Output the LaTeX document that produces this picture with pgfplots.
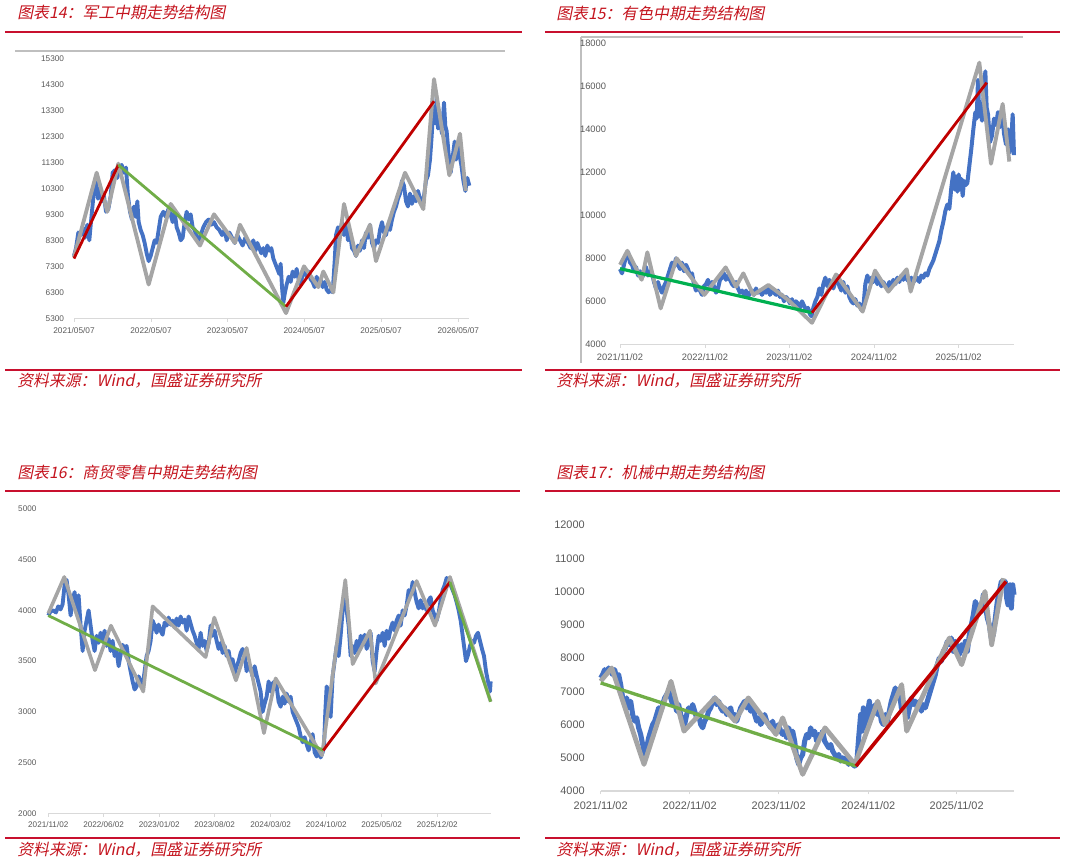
\documentclass[border=0pt]{standalone}
\usepackage{fontspec}
\setmainfont{Liberation Sans}
\newfontfamily\cjk[FakeSlant=0.2]{Noto Sans CJK SC}
\usepackage{pgfplots}
\pgfplotsset{compat=1.18}
\definecolor{xblue}{RGB}{68,114,196}
\definecolor{xgray}{RGB}{165,165,165}
\definecolor{xred}{RGB}{192,0,0}
\definecolor{xgreen}{RGB}{112,173,71}
\definecolor{xgreenb}{RGB}{0,176,80}
\definecolor{hdred}{RGB}{200,16,46}
\definecolor{titred}{RGB}{196,20,30}
\definecolor{ticklab}{RGB}{89,89,89}
\definecolor{axgray}{RGB}{217,217,217}
\definecolor{bordgray}{RGB}{191,191,191}
\pgfplotsset{
  panel/.style={
    scale only axis,
    scaled ticks=false,
    axis x line=bottom, axis y line=left,
    axis line style={-},
    x axis line style={axgray, line width=0.8pt},
    y axis line style={draw=none},
    ytick style={draw=none},
    xtick style={axgray, line width=0.6pt},
    xtick align=outside,
    major tick length=2.5pt,
    tick label style={text=ticklab},
    /pgf/number format/assume math mode=true,
    /pgf/number format/1000 sep={},
    /pgf/number format/fixed,
    /pgf/number format/precision=0,
    yticklabel style={anchor=east, inner sep=0pt},
    xticklabel style={anchor=north, inner sep=0pt},
    clip=false,
    line join=round,
  },
  blueline/.style={xblue, line width=#1},
  grayline/.style={xgray, line width=#1},
}
\begin{document}
\begin{tikzpicture}[x=0.75pt,y=0.75pt]
\path (0,0) rectangle (1065,863);
% ---------- decorations ----------
\begin{scope}[font=\cjk\fontsize{11.9}{13}\selectfont]
\node[anchor=west, text=titred, inner sep=0pt] at (17,850) {图表14：军工中期走势结构图};
\node[anchor=west, text=titred, inner sep=0pt] at (556,850) {图表15：有色中期走势结构图};
\node[anchor=west, text=titred, inner sep=0pt] at (17,390) {图表16：商贸零售中期走势结构图};
\node[anchor=west, text=titred, inner sep=0pt] at (556,390) {图表17：机械中期走势结构图};
\node[anchor=west, text=titred, inner sep=0pt] at (17,482) {资料来源：Wind，国盛证券研究所};
\node[anchor=west, text=titred, inner sep=0pt] at (556,482) {资料来源：Wind，国盛证券研究所};
\node[anchor=west, text=titred, inner sep=0pt] at (17,13) {资料来源：Wind，国盛证券研究所};
\node[anchor=west, text=titred, inner sep=0pt] at (556,13) {资料来源：Wind，国盛证券研究所};
\end{scope}
\draw[hdred, line width=1.6pt] (5,830.7) -- (522,830.7);
\draw[hdred, line width=1.6pt] (545,830.7) -- (1060,830.7);
\draw[hdred, line width=1.6pt] (5,493) -- (522,493);
\draw[hdred, line width=1.6pt] (545,493) -- (1060,493);
\draw[hdred, line width=1.6pt] (5,372) -- (520,372);
\draw[hdred, line width=1.6pt] (545,372) -- (1060,372);
\draw[hdred, line width=1.6pt] (5,25) -- (520,25);
\draw[hdred, line width=1.6pt] (545,25) -- (1060,25);
\draw[bordgray, line width=0.8pt] (15,812) -- (505,812);
\draw[bordgray, line width=0.8pt] (581,826) -- (1023,826);
\draw[bordgray, line width=0.8pt] (581,826) -- (581,500);
% ---------- Panel 1 ----------
\begin{axis}[panel, at={(55.5pt,408.5pt)}, anchor=south west,
  width=296.5pt, height=195pt,
  xmin=222, xmax=1408, ymin=5300, ymax=15300,
  ytick={5300,6300,...,15300},
  xtick={222,453,683,913,1143,1375},
  xticklabels={2021/05/07,2022/05/07,2023/05/07,2024/05/07,2025/05/07,2026/05/07},
  tick label style={font=\fontsize{6.2}{7}\selectfont},
  yticklabel style={xshift=-6pt},
  xticklabel style={yshift=-4pt}]
\addplot[blueline=2.9pt] coordinates {(222,7700)(228,8000)(235,8600)(242,8500)(248,8800)(255,8400)(262,8900)(268,8300)(275,9300)(282,10200)(288,10600)(294,9900)(300,10300)(306,9800)(312,10000)(318,9400)(325,9500)(332,10000)(338,10900)(345,11000)(352,10700)(358,11100)(365,11200)(372,10900)(378,11100)(384,10000)(390,9400)(396,9100)(402,9600)(408,9200)(412,9800)(416,9000)(422,8700)(428,8500)(434,8200)(440,7800)(446,7500)(452,7700)(458,8000)(464,8300)(470,8200)(476,8700)(482,9200)(490,9400)(498,9200)(505,9500)(512,9300)(518,9000)(524,9400)(530,8800)(536,8600)(542,8300)(548,8400)(554,9000)(560,9400)(566,9100)(572,9300)(578,8800)(584,8700)(590,8400)(596,8300)(602,8500)(610,8800)(618,9000)(626,9100)(634,8900)(642,9000)(650,8800)(658,8700)(666,8500)(674,8700)(680,8300)(688,8600)(696,8400)(704,8200)(712,8500)(720,8300)(728,8100)(736,8400)(744,8200)(752,8000)(760,8300)(766,7900)(772,8200)(778,8000)(784,7800)(790,8000)(796,7700)(802,8100)(808,7900)(814,8000)(820,7600)(826,7400)(832,7200)(838,7000)(842,7400)(846,6500)(850,5900)(855,6300)(860,6600)(866,6900)(872,6700)(878,7100)(884,6900)(890,7200)(896,6800)(902,6600)(908,7000)(914,7200)(920,6900)(926,7100)(932,6800)(938,6700)(944,6500)(950,6900)(956,6600)(962,6800)(968,6500)(974,6700)(980,6400)(986,6300)(992,6400)(998,6300)(1004,7500)(1008,8500)(1014,8800)(1020,8600)(1026,9000)(1032,8500)(1038,8900)(1044,8300)(1050,8600)(1056,8000)(1062,7900)(1068,7700)(1074,8100)(1080,7900)(1086,8300)(1092,8000)(1098,8600)(1104,8400)(1110,8900)(1116,8200)(1122,8000)(1128,8300)(1134,8200)(1140,8700)(1146,9000)(1152,8600)(1158,8500)(1164,8900)(1170,8700)(1176,9100)(1182,9400)(1188,9600)(1194,9900)(1200,10100)(1206,10600)(1212,10400)(1218,9800)(1224,9600)(1230,10100)(1236,9700)(1242,10000)(1248,9800)(1254,10200)(1260,9900)(1266,9800)(1272,10000)(1278,10600)(1284,10800)(1290,11400)(1295,12300)(1300,13400)(1305,12800)(1310,13800)(1314,12600)(1320,12900)(1326,12400)(1332,13600)(1336,12700)(1340,12500)(1346,11600)(1352,10900)(1358,11500)(1364,12100)(1368,11400)(1372,12000)(1378,11600)(1384,11200)(1390,10600)(1396,10200)(1402,10700)(1408,10400)};
\addplot[grayline=2.9pt] coordinates {(222,7650)(290,10900)(322,9400)(355,11250)(446,6600)(512,9700)(600,8100)(642,9300)(705,8200)(720,8900)(858,5500)(912,7300)(955,6500)(970,7100)(1000,6300)(1032,9700)(1068,7700)(1110,8900)(1128,7500)(1215,10900)(1270,9500)(1302,14500)(1348,10800)(1380,12400)(1397,10200)};
\addplot[xred, line width=2.1pt] coordinates {(222,7600)(355,11200)};
\addplot[xgreen, line width=2.1pt] coordinates {(355,11200)(858,5750)};
\addplot[xred, line width=2.1pt] coordinates {(858,5750)(1302,13650)};
\end{axis}
% ---------- Panel 2 ----------
\begin{axis}[panel, at={(465pt,389pt)}, anchor=south west,
  width=295.5pt, height=225.75pt,
  xmin=240, xmax=1422, ymin=4000, ymax=18000,
  ytick={4000,6000,...,18000},
  xtick={240,495,748,1002,1256},
  xticklabels={2021/11/02,2022/11/02,2023/11/02,2024/11/02,2025/11/02},
  tick label style={font=\fontsize{7}{8}\selectfont},
  yticklabel style={xshift=-9pt},
  xticklabel style={yshift=-4pt}]
\addplot[blueline=3pt] coordinates {(240,7500)(246,7300)(252,7700)(258,8100)(264,8300)(270,7800)(276,7700)(282,7400)(288,7600)(294,7200)(300,7400)(306,7100)(312,7300)(318,7600)(324,7200)(330,7400)(336,7300)(342,6900)(348,6600)(354,6900)(360,6600)(366,6400)(372,6700)(378,6900)(384,7200)(390,7500)(396,7800)(402,7600)(408,8000)(414,7700)(420,7500)(426,7800)(432,7400)(438,7700)(444,7500)(450,7200)(456,7300)(462,6800)(468,6500)(474,6700)(480,6500)(486,6300)(492,6700)(498,6800)(504,7000)(510,6600)(516,6900)(522,6700)(528,6400)(534,6600)(540,7000)(546,7100)(552,7300)(558,7000)(564,7200)(570,7000)(576,6800)(582,6700)(588,6900)(594,6600)(600,6400)(606,6500)(612,6300)(618,6500)(624,6200)(630,6400)(636,6500)(642,6300)(648,6600)(654,6400)(660,6500)(666,6300)(672,6500)(678,6400)(684,6600)(690,6300)(696,6500)(702,6400)(708,6300)(714,6500)(720,6200)(726,6300)(732,6000)(738,6200)(744,6100)(750,5900)(756,6100)(762,5800)(768,6000)(774,5900)(780,5700)(786,6000)(792,5800)(798,5600)(804,5700)(810,5400)(815,5300)(820,5700)(826,6000)(832,6200)(838,6600)(844,6300)(850,6800)(856,7100)(862,6700)(868,7000)(874,6800)(880,6600)(886,6900)(892,7200)(898,6700)(904,6500)(910,6900)(916,6400)(922,6700)(928,6200)(934,6000)(940,5900)(946,6100)(952,5800)(958,5900)(964,5600)(970,5700)(976,6800)(982,7200)(988,6900)(994,7100)(1000,6900)(1006,7200)(1012,6800)(1018,7000)(1024,6700)(1030,6900)(1036,6700)(1042,6600)(1048,6900)(1054,6700)(1060,7000)(1066,6800)(1072,7100)(1078,6900)(1084,7200)(1090,7000)(1096,7300)(1102,7000)(1108,6900)(1114,7100)(1120,6900)(1126,7000)(1132,7100)(1138,6900)(1144,7200)(1150,7100)(1156,7300)(1162,7200)(1168,7500)(1174,7700)(1180,7900)(1186,8200)(1192,8500)(1198,8800)(1204,9300)(1210,9700)(1216,10200)(1222,10500)(1228,10300)(1234,11300)(1240,12000)(1244,11200)(1248,11800)(1252,11100)(1256,11900)(1260,11200)(1264,11700)(1268,10900)(1272,11600)(1276,11400)(1282,11500)(1288,12300)(1294,13100)(1300,14000)(1306,14800)(1310,14500)(1314,16300)(1318,14600)(1322,15200)(1326,14400)(1332,15800)(1336,16700)(1340,15000)(1344,14700)(1350,13400)(1356,13700)(1362,14500)(1368,14200)(1374,14800)(1380,14100)(1386,15000)(1392,13800)(1398,13300)(1404,14000)(1408,12900)(1414,13500)(1418,14700)(1422,12800)};
\addplot[grayline=2.9pt] coordinates {(240,7700)(262,8350)(305,7000)(322,8280)(362,5670)(410,8000)(493,6300)(557,7580)(588,6680)(610,7300)(640,6300)(685,6760)(745,6060)(816,5000)(888,7250)(968,5520)(1005,7430)(1045,6450)(1100,7490)(1112,6450)(1318,17100)(1353,12400)(1388,15180)(1408,12500)};
\addplot[xgreenb, line width=2.4pt] coordinates {(240,7520)(816,5470)};
\addplot[xred, line width=2.1pt] coordinates {(816,5470)(1340,16170)};
\end{axis}
% ---------- Panel 3 ----------
\begin{axis}[panel, at={(36.2pt,37.3pt)}, anchor=south west,
  width=331.8pt, height=228.2pt,
  xmin=145, xmax=1472, ymin=2000, ymax=5000,
  ytick={2000,2500,...,5000},
  xtick={145,311,478,644,812,979,1145,1312},
  xticklabels={2021/11/02,2022/06/02,2023/01/02,2023/08/02,2024/03/02,2024/10/02,2025/05/02,2025/12/02},
  tick label style={font=\fontsize{6.1}{7}\selectfont},
  yticklabel style={xshift=-7.5pt},
  xticklabel style={yshift=-3.5pt}]
\addplot[blueline=2.9pt] coordinates {(145,3950)(152,3990)(160,4000)(168,3980)(175,4040)(182,4010)(188,4060)(194,4250)(200,4300)(206,4150)(212,3950)(218,4100)(224,4180)(230,3980)(236,4150)(242,3850)(248,3600)(254,3800)(260,3900)(266,4000)(272,3850)(278,3700)(284,3600)(290,3750)(296,3680)(302,3780)(308,3700)(314,3800)(320,3650)(326,3720)(332,3600)(338,3700)(344,3550)(350,3600)(356,3450)(362,3560)(368,3660)(374,3620)(380,3650)(386,3500)(392,3400)(398,3300)(404,3220)(410,3250)(416,3350)(422,3300)(428,3250)(434,3400)(440,3550)(446,3600)(452,3700)(458,3900)(464,3850)(470,3780)(476,3860)(482,3800)(488,3760)(494,3880)(500,3850)(506,3930)(512,3860)(518,3900)(524,3830)(530,3920)(536,3850)(542,3940)(548,3880)(554,3910)(560,3800)(566,3940)(572,3870)(578,3800)(584,3750)(590,3680)(596,3620)(602,3780)(608,3650)(614,3700)(620,3600)(626,3680)(632,3850)(638,3750)(644,3800)(650,3700)(656,3620)(662,3680)(668,3580)(674,3650)(680,3550)(686,3600)(692,3480)(698,3520)(704,3380)(710,3450)(716,3500)(722,3580)(728,3620)(734,3560)(740,3400)(746,3480)(752,3420)(758,3350)(764,3450)(770,3360)(776,3280)(782,3200)(788,3000)(794,3080)(800,3150)(806,3300)(812,3200)(818,3280)(824,3300)(830,3250)(836,3100)(842,3050)(848,3150)(854,3080)(860,3180)(866,3100)(872,3150)(878,3000)(884,2950)(890,2900)(896,2850)(902,2760)(908,2700)(914,2750)(920,2680)(926,2620)(932,2700)(938,2780)(944,2600)(950,2560)(956,2620)(962,2550)(968,2600)(972,2650)(976,3000)(980,3250)(986,3200)(992,2950)(998,3350)(1004,3500)(1010,3650)(1016,3550)(1022,3750)(1028,4000)(1034,4150)(1040,4000)(1046,3850)(1052,3550)(1058,3650)(1064,3580)(1070,3700)(1076,3600)(1082,3750)(1088,3680)(1094,3760)(1100,3620)(1106,3700)(1112,3780)(1118,3500)(1124,3400)(1130,3600)(1136,3750)(1142,3700)(1148,3780)(1154,3650)(1160,3800)(1166,3720)(1172,3820)(1178,3880)(1184,3800)(1190,3900)(1196,3950)(1202,3850)(1208,4000)(1214,3950)(1220,4050)(1226,4200)(1232,4150)(1238,4280)(1244,4180)(1250,4080)(1256,4020)(1262,4100)(1268,4020)(1274,4060)(1280,4000)(1286,4100)(1292,4130)(1298,4000)(1304,3950)(1310,3900)(1316,3980)(1322,4100)(1328,4200)(1334,4250)(1340,4320)(1346,4300)(1352,4250)(1358,4200)(1364,4150)(1370,4080)(1376,4000)(1382,3900)(1388,3750)(1394,3600)(1398,3500)(1404,3560)(1410,3650)(1416,3700)(1422,3680)(1428,3750)(1434,3780)(1440,3700)(1446,3620)(1452,3550)(1458,3400)(1464,3300)(1470,3200)(1472,3300)};
\addplot[grayline=2.7pt] coordinates {(145,3970)(193,4330)(285,3410)(333,3850)(430,3200)(458,4040)(617,3540)(643,3930)(708,3310)(740,3630)(792,2790)(827,3330)(966,2570)(1036,4300)(1058,3470)(1110,3800)(1127,3280)(1250,4290)(1305,3850)(1350,4330)(1472,3100)};
\addplot[xgreen, line width=2.1pt] coordinates {(145,3950)(970,2620)};
\addplot[xred, line width=2.1pt] coordinates {(970,2620)(1350,4280)};
\addplot[xgreen, line width=2.1pt] coordinates {(1350,4280)(1472,3100)};
\end{axis}
% ---------- Panel 4 ----------
\begin{axis}[panel, at={(450.5pt,54pt)}, anchor=south west,
  width=310pt, height=199.5pt,
  xmin=182, xmax=1422, ymin=4000, ymax=12000,
  ytick={4000,5000,...,12000},
  xtick={182,449,716,985,1250},
  xticklabels={2021/11/02,2022/11/02,2023/11/02,2024/11/02,2025/11/02},
  tick label style={font=\fontsize{8.2}{9}\selectfont},
  yticklabel style={xshift=-10.5pt},
  xticklabel style={yshift=-5pt}]
\addplot[blueline=3.8pt] coordinates {(182,7400)(188,7500)(194,7650)(200,7550)(206,7700)(212,7600)(218,7500)(224,7650)(230,7400)(236,7500)(242,7200)(248,6800)(254,6600)(260,6800)(266,6500)(272,6700)(278,6300)(284,6100)(290,6200)(296,5900)(302,5700)(308,5400)(314,5100)(320,5300)(326,5600)(332,5800)(338,6000)(344,6100)(350,6300)(356,6500)(362,6400)(368,6600)(374,6800)(380,6900)(386,7000)(392,6800)(398,6600)(404,6700)(410,6400)(416,6600)(422,6300)(428,6100)(434,6000)(440,6300)(446,6500)(452,6400)(458,6600)(464,6400)(470,6200)(476,6300)(482,6000)(488,5900)(494,6100)(500,6200)(506,6400)(512,6500)(518,6700)(524,6800)(530,6600)(536,6700)(542,6500)(548,6400)(554,6500)(560,6300)(566,6400)(572,6500)(578,6200)(584,6300)(590,6100)(596,6300)(602,6500)(608,6600)(614,6700)(620,6500)(626,6600)(632,6400)(638,6500)(644,6300)(650,6100)(656,6200)(662,6000)(668,6100)(674,6300)(680,6100)(686,6000)(692,5900)(698,6100)(704,5800)(710,5900)(716,6000)(722,5800)(728,5700)(734,5800)(740,5600)(746,5900)(752,5700)(758,5800)(764,5500)(770,5000)(776,4800)(782,5000)(788,5100)(794,5500)(800,5700)(806,5600)(812,5900)(818,5700)(824,5800)(830,5500)(836,5700)(842,5600)(848,5800)(854,5500)(860,5400)(866,5300)(872,5400)(878,5200)(884,5100)(890,5000)(896,5100)(902,4900)(908,5000)(914,4900)(920,5000)(926,4800)(932,4900)(938,4800)(944,4750)(950,4800)(956,5600)(962,6300)(966,5800)(970,6500)(976,5900)(982,6300)(988,6700)(994,6200)(1000,6400)(1006,6600)(1012,6300)(1018,6500)(1024,6100)(1030,6000)(1036,6300)(1042,6100)(1048,6400)(1054,6700)(1060,6900)(1066,7100)(1072,6800)(1078,7000)(1084,6500)(1090,6700)(1096,6400)(1102,6200)(1108,6500)(1114,6800)(1120,6600)(1126,6700)(1132,6500)(1138,6700)(1144,6400)(1150,6600)(1156,6500)(1162,6700)(1168,6900)(1174,7100)(1180,7300)(1186,7500)(1192,7800)(1198,8000)(1204,7900)(1210,8200)(1216,8300)(1222,8500)(1228,8400)(1234,8600)(1240,8200)(1246,8500)(1252,8300)(1258,8100)(1264,8400)(1270,8200)(1276,8500)(1282,8200)(1288,8700)(1294,9000)(1300,9300)(1306,9700)(1312,9500)(1318,9600)(1324,9400)(1330,9900)(1336,9600)(1342,9200)(1348,9000)(1354,8600)(1360,8700)(1366,9200)(1372,9700)(1378,10000)(1384,10300)(1390,10200)(1396,10300)(1400,9800)(1404,9600)(1410,10200)(1414,9500)(1418,10200)(1422,9900)};
\addplot[grayline=3.6pt] coordinates {(182,7300)(215,7700)(312,4800)(393,7300)(432,5800)(525,6800)(585,6100)(625,6800)(708,5700)(728,6200)(788,4500)(855,5900)(945,4800)(1013,6700)(1035,6000)(1085,7200)(1100,5800)(1228,8600)(1265,7800)(1335,10000)(1355,8400)(1390,10400)};
\addplot[xgreen, line width=2.5pt] coordinates {(182,7250)(948,4750)};
\addplot[xred, line width=2.7pt] coordinates {(948,4750)(1398,10300)};
\end{axis}
\end{tikzpicture}
\end{document}
